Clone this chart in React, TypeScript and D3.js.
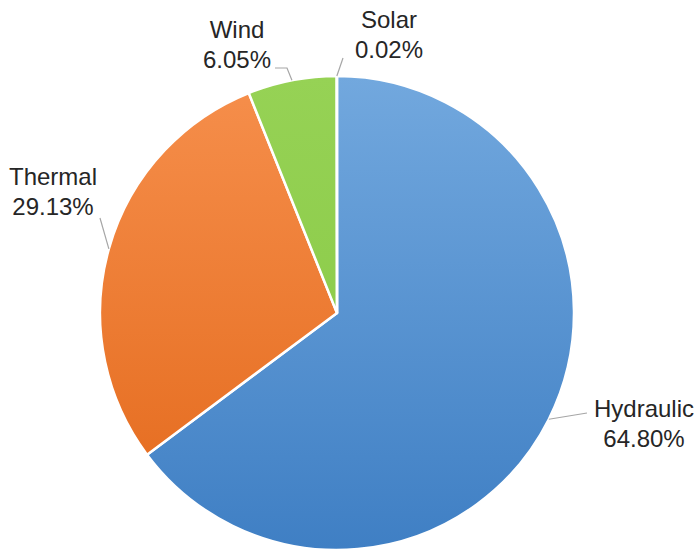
import React, { useEffect, useRef } from 'react';
import * as d3 from 'd3';

const sources = ['Hydraulic', 'Thermal', 'Wind', 'Solar'];
const shares = [64.8, 29.13, 6.05, 0.02];
const shareLabels = ['64.80%', '29.13%', '6.05%', '0.02%'];
const topColors = ['#72a8de', '#f68f4c', '#96d255', '#96d255'];
const bottomColors = ['#3f7fc4', '#e3681a', '#86c843', '#86c843'];

// label anchor (text center x, first baseline y) and the point where the leader line leaves the text
const labelPos = [
  { x: 644, y: 417, lx: 587, ly: 413, elbow: null as null | [number, number] },
  { x: 53, y: 185, lx: 100, ly: 218, elbow: null },
  { x: 237, y: 38, lx: 275, ly: 68, elbow: [287, 68] as [number, number] },
  { x: 389, y: 28, lx: 343, ly: 58, elbow: null },
];

const App: React.FC = () => {
  const ref = useRef<SVGSVGElement>(null);

  useEffect(() => {
    if (!ref.current) return;
    const svg = d3.select(ref.current);
    svg.selectAll('*').remove();

    const cx = 337;
    const cy = 313;
    const r = 237;

    const data = sources.map((s, i) => ({ name: s, value: shares[i], i }));
    const pie = d3.pie<any>().sort(null).value(d => d.value).startAngle(0).endAngle(2 * Math.PI);
    const arcs = pie(data);
    const arc = d3.arc<any>().innerRadius(0).outerRadius(r);
    const edge = d3.arc<any>().innerRadius(r).outerRadius(r);

    const defs = svg.append('defs');
    data.forEach((d, i) => {
      const g = defs.append('linearGradient')
        .attr('id', `grad${i}`)
        .attr('gradientUnits', 'userSpaceOnUse')
        .attr('x1', 0).attr('y1', -r)
        .attr('x2', 0).attr('y2', r);
      g.append('stop').attr('offset', '0%').attr('stop-color', topColors[i]);
      g.append('stop').attr('offset', '100%').attr('stop-color', bottomColors[i]);
    });

    const g = svg.append('g').attr('transform', `translate(${cx},${cy})`);

    g.selectAll('path.slice')
      .data(arcs)
      .enter()
      .append('path')
      .attr('class', 'slice')
      .attr('d', arc as any)
      .attr('fill', (d: any) => `url(#grad${d.data.i})`)
      .attr('stroke', '#fff')
      .attr('stroke-width', 2.5)
      .attr('stroke-linejoin', 'round');

    // leader lines
    arcs.forEach((a: any) => {
      const p = labelPos[a.data.i];
      const [ex, ey] = edge.centroid(a);
      const pts: [number, number][] = [[p.lx, p.ly]];
      if (p.elbow) pts.push(p.elbow);
      pts.push([cx + ex, cy + ey]);
      svg.append('path')
        .attr('d', d3.line()(pts) as string)
        .attr('fill', 'none')
        .attr('stroke', '#a6a6a6')
        .attr('stroke-width', 1.2);
    });

    // labels
    data.forEach((d, i) => {
      const p = labelPos[i];
      const t = svg.append('text')
        .attr('x', p.x)
        .attr('y', p.y)
        .attr('text-anchor', 'middle')
        .style('font-family', '"Liberation Sans", Arial, sans-serif')
        .style('font-size', '24px')
        .attr('fill', '#262626');
      t.append('tspan').attr('x', p.x).text(d.name);
      t.append('tspan').attr('x', p.x).attr('dy', 30).text(shareLabels[i]);
    });
  }, []);

  return (
    <svg
      ref={ref}
      width={698}
      height={550}
      style={{ position: 'absolute', left: 0, top: 0, background: '#fff' }}
    />
  );
};

export default App;
